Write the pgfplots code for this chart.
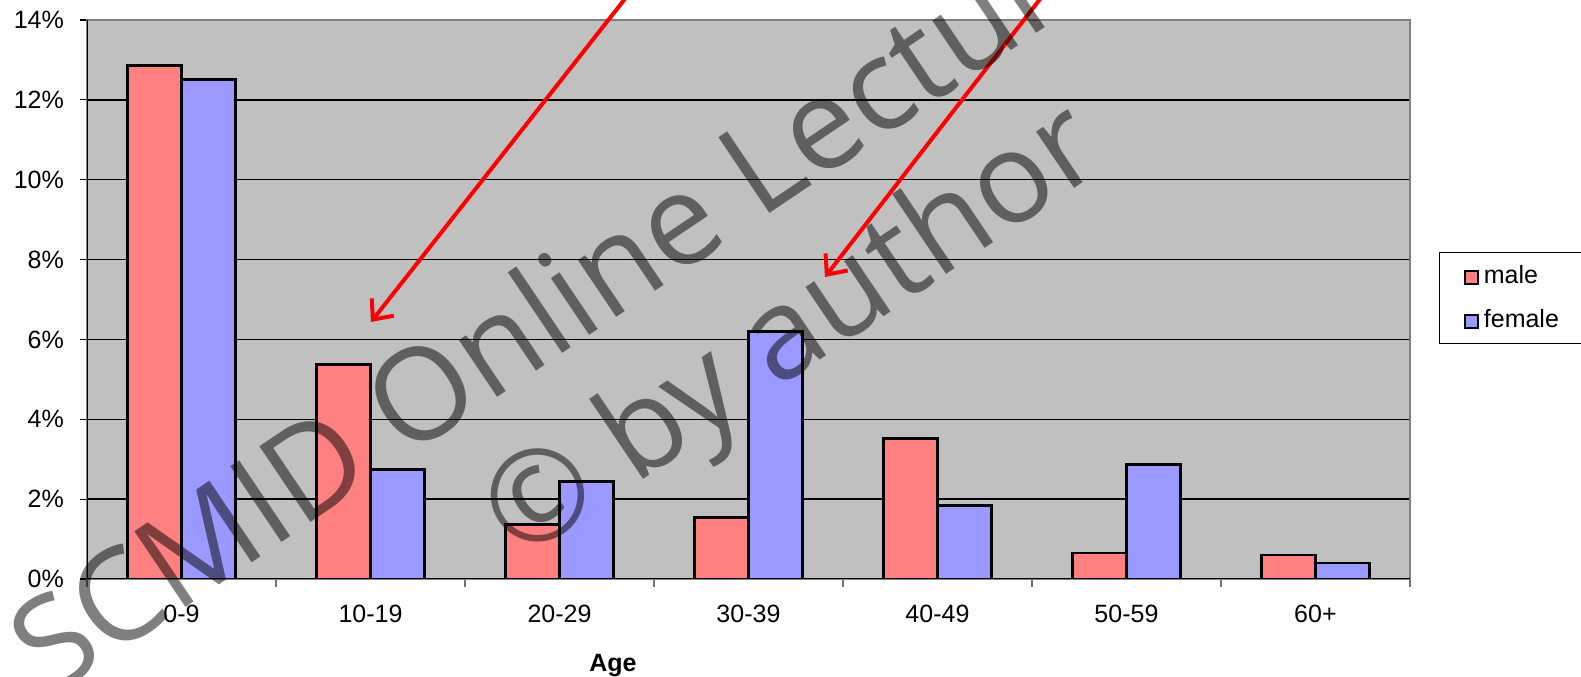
\documentclass[border=0pt]{standalone}
\usepackage{pgfplots}
\pgfplotsset{compat=1.18}
\usepackage{fontspec}
\setmainfont{Liberation Sans}
\newfontfamily\wmfont{Open Sans}
\usetikzlibrary{arrows.meta}
\definecolor{malec}{RGB}{255,128,128}
\definecolor{femalec}{RGB}{153,153,255}
\definecolor{bgc}{RGB}{192,192,192}
\begin{document}
\begin{tikzpicture}
\useasboundingbox (0bp,0bp) rectangle (1581bp,677bp);
\clip (0bp,0bp) rectangle (1581bp,677bp);
\begin{axis}[
  at={(87bp,98bp)}, anchor=south west,
  scale only axis, width=1323bp, height=559bp,
  xmin=-0.5, xmax=6.5, ymin=0, ymax=14,
  axis background/.style={fill=bgc},
  axis line style={draw=black!50, line width=1.6bp},
  ybar, bar width=54bp,
  xtick={0,1,2,3,4,5,6},
  xticklabels={0-9,10-19,20-29,30-39,40-49,50-59,60+},
  minor xtick={-0.5,0.5,...,6.5},
  ytick={0,2,4,6,8,10,12,14},
  yticklabels={0\%,2\%,4\%,6\%,8\%,10\%,12\%,14\%},
  xtick pos=bottom, ytick pos=left,
  tick align=outside,
  major tick length=7bp, minor tick length=8bp,
  major x tick style={draw=none},
  minor x tick style={draw=black!55, line width=1.2bp},
  major y tick style={draw=black, line width=1.2bp},
  ymajorgrids, major grid style={draw=black, line width=1.3bp},
  tick label style={font=\fontsize{25bp}{30bp}\selectfont, inner sep=0pt},
  xticklabel style={anchor=base, yshift=-36bp},
  yticklabel style={anchor=east, xshift=-16bp},
  xlabel={\textbf{Age}},
  xlabel style={font=\fontsize{25bp}{30bp}\selectfont, at={(axis description cs:0.3976,-0.1646)}, anchor=base, inner sep=0pt},
  legend style={at={(1.0219,0.585)}, anchor=north west, draw=black, line width=0.8bp, fill=white,
    font=\fontsize{25bp}{30bp}\selectfont, inner xsep=25bp, inner ysep=9bp, row sep=15bp,
    nodes={inner sep=0pt, text height=22bp, text depth=7bp},
    cells={anchor=west},
    /tikz/every odd column/.append style={column sep=5bp}},
  legend image code/.code={\draw[#1, line width=1.6bp] (0bp,-8bp) rectangle (13bp,5bp);},
]
\addplot[fill=malec, draw=black, line width=2.8bp, bar shift=-27bp] coordinates {
  (0,12.86) (1,5.38) (2,1.37) (3,1.54) (4,3.51) (5,0.65) (6,0.60)};
\addplot[fill=femalec, draw=black, line width=2.8bp, bar shift=27bp] coordinates {
  (0,12.50) (1,2.75) (2,2.45) (3,6.19) (4,1.84) (5,2.86) (6,0.40)};
\legend{male,female}
\draw[black, line width=1.6bp] (rel axis cs:0,0) -- (rel axis cs:1,0);
\draw[black, line width=1.6bp] (rel axis cs:0,0) -- (rel axis cs:0,1);
\end{axis}
\draw[red, line width=4bp, -{Straight Barb[length=16bp,width=28bp,line width=4bp]}] (650bp,710bp) -- (371bp,355bp);
\draw[red, line width=4bp, -{Straight Barb[length=16bp,width=28bp,line width=4bp]}] (1061bp,705bp) -- (825bp,400bp);
\node[font=\wmfont\fontsize{128bp}{128bp}\selectfont, text=black, text opacity=0.5, rotate=34, anchor=base west, inner sep=0pt] at (50bp,-22bp) {SCMID Online Lectures};
\node[font=\wmfont\fontsize{127bp}{127bp}\selectfont, text=black, text opacity=0.5, rotate=34, anchor=base west, inner sep=0pt] at (519bp,114bp) {© by author};
\end{tikzpicture}
\end{document}
